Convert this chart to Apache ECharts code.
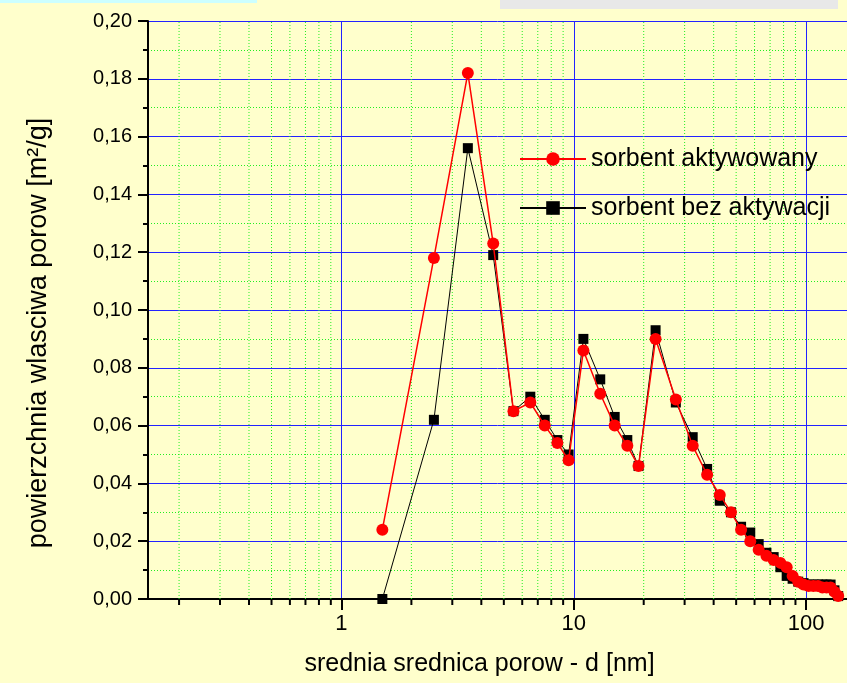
<!DOCTYPE html>
<html lang="pl">
<head>
    <meta charset="utf-8">
    <title>powierzchnia wlasciwa porow</title>
    <script src="https://cdn.jsdelivr.net/npm/echarts@6/dist/echarts.min.js"></script>
    <style type="text/css">
        html, body {
            margin: 0;
            padding: 0;
            background: #ffffcc;
        }

        #main {
            width: 847px;
            height: 683px;
        }
    </style>
</head>
<body>
<div id="main"></div>

<script type="text/javascript">
    // srednica porow [nm]
    var srednica = [1.5, 2.5, 3.5, 4.5, 5.5, 6.5, 7.5, 8.5, 9.5, 11, 13, 15, 17, 19,
        22.5, 27.5, 32.5, 37.5, 42.5, 47.5, 52.5, 57.5, 62.5, 67.5, 72.5, 77.5,
        82.5, 87.5, 92.5, 97.5, 102.5, 107.5, 112.5, 117.5, 122.5, 127.5, 132.5, 137.5];
    var aktywowany = [0.024, 0.118, 0.182, 0.123, 0.065, 0.068, 0.060, 0.054, 0.048, 0.086,
        0.071, 0.060, 0.053, 0.046, 0.090, 0.069, 0.053, 0.043, 0.036, 0.030, 0.024, 0.020,
        0.017, 0.015, 0.0135, 0.0125, 0.011, 0.008, 0.006, 0.005, 0.0045, 0.0045, 0.0045,
        0.004, 0.004, 0.004, 0.0025, 0.001];
    var bezAktywacji = [0.000, 0.062, 0.156, 0.119, 0.065, 0.070, 0.062, 0.055, 0.050, 0.090,
        0.076, 0.063, 0.055, 0.046, 0.093, 0.068, 0.056, 0.045, 0.034, 0.030, 0.025, 0.023,
        0.019, 0.016, 0.0145, 0.011, 0.008, 0.007, 0.006, 0.0055, 0.005, 0.005, 0.005,
        0.005, 0.005, 0.005, 0.003, 0.001];
    // podzialka pomocnicza osi x (log)
    var minorX = [0.2, 0.3, 0.4, 0.5, 0.6, 0.7, 0.8, 0.9,
        2, 3, 4, 5, 6, 7, 8, 9,
        20, 30, 40, 50, 60, 70, 80, 90];
    var majorX = [1, 10, 100];

    var font = 'Liberation Sans, Arial, sans-serif';

    function pary(xs, ys) {
        return xs.map(function (x, i) {
            return [x, ys[i]];
        });
    }

    var myChart = echarts.init(document.getElementById('main'));
    var option = {
        backgroundColor: '#ffffcc',
        animation: false,
        textStyle: {fontFamily: font},
        graphic: [
            {type: 'rect', left: 0, top: 0, shape: {width: 257, height: 3}, style: {fill: '#ccffff'}},
            {type: 'rect', left: 500, top: 0, shape: {width: 338, height: 9}, style: {fill: '#e8e8e8'}}
        ],
        grid: {left: 148, top: 21, right: -2, bottom: 84},
        legend: {
            data: ['sorbent aktywowany', 'sorbent bez aktywacji'],
            orient: 'vertical',
            left: 514,
            top: 141,
            itemWidth: 66,
            itemHeight: 17,
            itemGap: 23,
            textStyle: {fontFamily: font, fontSize: 25, color: '#000', lineHeight: 26}
        },
        xAxis: {
            type: 'log',
            logBase: 10,
            min: 0.147,
            max: 150,
            name: 'srednia srednica porow - d [nm]',
            nameLocation: 'middle',
            nameGap: 53,
            nameTextStyle: {fontFamily: font, fontSize: 25, color: '#000', padding: [0, 36, 0, 0]},
            axisLine: {lineStyle: {color: '#000', width: 2}},
            axisTick: {length: 11, lineStyle: {color: '#000', width: 2}},
            axisLabel: {
                fontFamily: font, fontSize: 22, color: '#000', margin: 14,
                showMinLabel: false, showMaxLabel: false,
                formatter: function (v) {
                    return majorX.indexOf(Math.round(v * 1000) / 1000) >= 0 ? String(Math.round(v)) : '';
                }
            },
            splitLine: {show: true, lineStyle: {color: '#2222ff', width: 1}}
        },
        yAxis: {
            type: 'value',
            min: 0,
            max: 0.2,
            interval: 0.02,
            name: 'powierzchnia wlasciwa porow [m²/g]',
            nameLocation: 'middle',
            nameGap: 96,
            nameTextStyle: {fontFamily: font, fontSize: 27, color: '#000', padding: [0, 46, 0, 0]},
            axisLine: {show: true, lineStyle: {color: '#000', width: 2}},
            axisTick: {show: true, length: 10, lineStyle: {color: '#000', width: 2}},
            minorTick: {show: true, splitNumber: 2, length: 5, lineStyle: {color: '#000', width: 2}},
            axisLabel: {
                fontFamily: font, fontSize: 20, color: '#000', margin: 16,
                formatter: function (v) {
                    return v.toFixed(2).replace('.', ',');
                }
            },
            splitLine: {show: true, lineStyle: {color: '#2222ff', width: 1}},
            minorSplitLine: {show: true, lineStyle: {color: '#22ee22', width: 1, type: [1, 2]}}
        },
        series: [
            {
                // pomocnicze linie siatki i kreski osi x
                type: 'custom',
                silent: true,
                clip: false,
                z: 1,
                data: minorX.map(function (v) {
                    return [v, 0];
                }),
                encode: {x: 0, y: 1},
                renderItem: function (params, api) {
                    var x = api.value(0);
                    var p0 = api.coord([x, 0]);
                    var p1 = api.coord([x, 0.2]);
                    return {
                        type: 'group',
                        children: [
                            {
                                type: 'line',
                                shape: {x1: p0[0], y1: p0[1], x2: p1[0], y2: p1[1]},
                                style: {stroke: '#22ee22', lineWidth: 1, lineDash: [1, 2]}
                            },
                            {
                                type: 'line',
                                shape: {x1: p0[0], y1: p0[1], x2: p0[0], y2: p0[1] + 6},
                                style: {stroke: '#000', lineWidth: 2}
                            }
                        ]
                    };
                }
            },
            {
                name: 'sorbent bez aktywacji',
                type: 'line',
                data: pary(srednica, bezAktywacji),
                symbol: 'rect',
                symbolSize: 10,
                itemStyle: {color: '#000'},
                lineStyle: {color: '#000', width: 1},
                z: 3
            },
            {
                name: 'sorbent aktywowany',
                type: 'line',
                data: pary(srednica, aktywowany),
                symbol: 'circle',
                symbolSize: 12,
                itemStyle: {color: '#ff0000'},
                lineStyle: {color: '#ff0000', width: 1.5},
                z: 4
            }
        ]
    };
    myChart.setOption(option);
</script>
</body>
</html>
